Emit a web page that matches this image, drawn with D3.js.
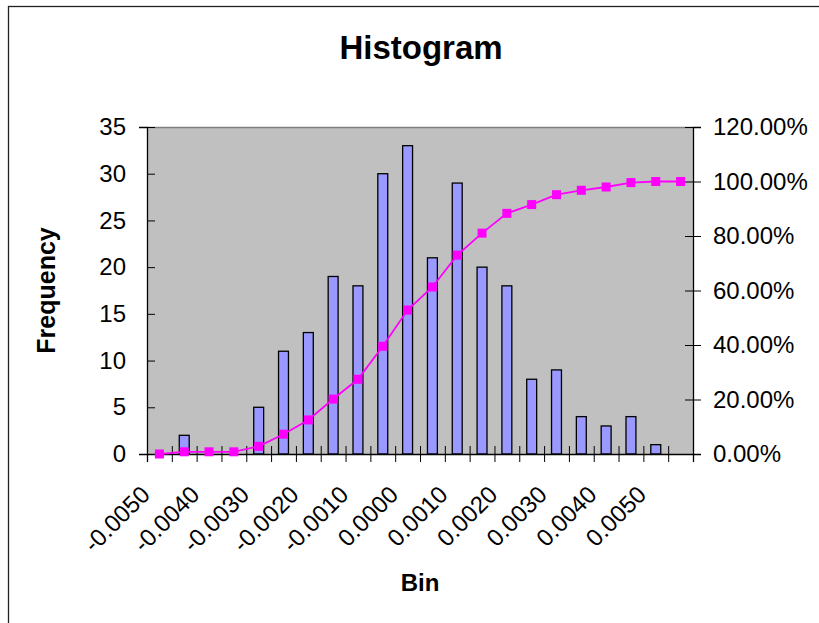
<!DOCTYPE html>
<html>
<head>
<meta charset="utf-8">
<script src="https://cdn.jsdelivr.net/npm/d3@7"></script>
<style>
body { margin: 0; background: #fff; }
text { font-family: Arial, "Liberation Sans", sans-serif; }
</style>
</head>
<body>
<div id="chart"></div>
<script>
// histogram bins (Excel style), every other one gets a label
var bins = ["-0.0050", "-0.0045", "-0.0040", "-0.0035", "-0.0030", "-0.0025", "-0.0020", "-0.0015",
	"-0.0010", "-0.0005", "0.0000", "0.0005", "0.0010", "0.0015", "0.0020", "0.0025",
	"0.0030", "0.0035", "0.0040", "0.0045", "0.0050", "More"];
var frequency = [0, 2, 0, 0, 5, 11, 13, 19, 18, 30, 33, 21, 29, 20, 18, 8, 9, 4, 3, 4, 1, 0];
var cumulative = [0, 0.0081, 0.0081, 0.0081, 0.0282, 0.0726, 0.1250, 0.2016, 0.2742, 0.3952, 0.5282,
	0.6129, 0.7298, 0.8105, 0.8831, 0.9153, 0.9516, 0.9677, 0.9798, 0.9960, 1, 1];
var labelBins = ["-0.0050", "-0.0040", "-0.0030", "-0.0020", "-0.0010", "0.0000",
	"0.0010", "0.0020", "0.0030", "0.0040", "0.0050"];
var freqTicks = [0, 5, 10, 15, 20, 25, 30, 35];
var pctTicks = [0, 0.2, 0.4, 0.6, 0.8, 1.0, 1.2];

var W = 819, H = 623;
var margin = {top: 127, right: 126, bottom: 169, left: 147};
var width = W - margin.left - margin.right;
var height = H - margin.top - margin.bottom;

var svg = d3.select("#chart").append("svg")
	.attr("width", W)
	.attr("height", H);

// chart border (runs off the right and bottom edges)
svg.append("rect")
	.attr("x", 8.5).attr("y", 6.5)
	.attr("width", 840).attr("height", 640)
	.attr("fill", "#fff")
	.attr("stroke", "#222")
	.attr("stroke-width", 1.3);

var g = svg.append("g")
	.attr("transform", "translate(" + margin.left + "," + margin.top + ")");

var x = d3.scaleBand()
	.domain(bins)
	.range([0, width])
	.paddingInner(0)
	.paddingOuter(0);

var edges = d3.scaleLinear()
	.domain([0, bins.length])
	.range([0, width]);

var y = d3.scaleLinear()
	.domain([0, 35])
	.range([height, 0]);

var y2 = d3.scaleLinear()
	.domain([0, 1.2])
	.range([height, 0]);

// plot area
g.append("rect")
	.attr("width", width)
	.attr("height", height)
	.attr("fill", "#c0c0c0");
g.append("line")
	.attr("x1", 0).attr("x2", width)
	.attr("y1", 0.5).attr("y2", 0.5)
	.attr("stroke", "#808080")
	.attr("stroke-width", 1.5);

// bars, gap width 150%
var barW = x.bandwidth() / 2.5;
g.selectAll(".bar")
	.data(frequency)
	.enter().append("rect")
	.attr("class", "bar")
	.attr("x", function(d, i) { return x(bins[i]) + (x.bandwidth() - barW) / 2; })
	.attr("y", function(d) { return y(d); })
	.attr("width", barW)
	.attr("height", function(d) { return height - y(d); })
	.attr("fill", "#9999ff")
	.attr("stroke", "#000")
	.attr("stroke-width", 1.3);

// left axis
var yAxis = g.append("g")
	.call(d3.axisLeft(y).tickValues(freqTicks).tickSize(8).tickPadding(13));
yAxis.selectAll(".tick line").attr("x2", 8);
yAxis.select(".domain").attr("stroke-width", 1.3);
yAxis.selectAll("text").style("font-size", "24px").attr("fill", "#000")
	.attr("x", -21);

// right axis
var y2Axis = g.append("g")
	.attr("transform", "translate(" + width + ",0)")
	.call(d3.axisRight(y2).tickValues(pctTicks).tickSize(8)
		.tickFormat(function(d) { return d3.format(".2f")(d * 100) + "%"; }));
y2Axis.selectAll(".tick line").attr("x1", -8);
y2Axis.select(".domain").attr("stroke-width", 1.3);
y2Axis.selectAll("text").style("font-size", "24px").attr("fill", "#000")
	.attr("x", 20);

// bottom axis: tick marks at category edges
var xEdges = g.append("g")
	.attr("transform", "translate(0," + height + ")")
	.call(d3.axisBottom(edges).ticks(bins.length).tickSize(8).tickFormat(""));
xEdges.selectAll(".tick line").attr("y1", -8);
xEdges.select(".domain").attr("stroke-width", 1.3);

// bottom axis labels, rotated
var xAxis = g.append("g")
	.attr("transform", "translate(0," + height + ")")
	.call(d3.axisBottom(x).tickValues(labelBins).tickSize(0));
xAxis.select(".domain").remove();
xAxis.selectAll("text")
	.style("font-size", "24px")
	.attr("fill", "#000")
	.attr("text-anchor", "end")
	.attr("y", 0).attr("dy", 0)
	.attr("transform", "translate(-8,42) rotate(-45)");

// cumulative line
var line = d3.line()
	.x(function(d, i) { return x(bins[i]) + x.bandwidth() / 2; })
	.y(function(d) { return y2(d); });

g.append("path")
	.datum(cumulative)
	.attr("d", line)
	.attr("fill", "none")
	.attr("stroke", "#ff00ff")
	.attr("stroke-width", 1.8);

g.selectAll(".marker")
	.data(cumulative)
	.enter().append("rect")
	.attr("class", "marker")
	.attr("x", function(d, i) { return x(bins[i]) + x.bandwidth() / 2 - 4.5; })
	.attr("y", function(d) { return y2(d) - 4.5; })
	.attr("width", 9)
	.attr("height", 9)
	.attr("fill", "#ff00ff");

// titles
svg.append("text")
	.attr("x", 421).attr("y", 59)
	.attr("text-anchor", "middle")
	.style("font-size", "33px")
	.style("font-weight", "bold")
	.text("Histogram");

svg.append("text")
	.attr("transform", "translate(55," + (margin.top + height / 2) + ") rotate(-90)")
	.attr("text-anchor", "middle")
	.style("font-size", "25px")
	.style("font-weight", "bold")
	.text("Frequency");

svg.append("text")
	.attr("x", margin.left + width / 2).attr("y", 591)
	.attr("text-anchor", "middle")
	.style("font-size", "24px")
	.style("font-weight", "bold")
	.text("Bin");
</script>
</body>
</html>
